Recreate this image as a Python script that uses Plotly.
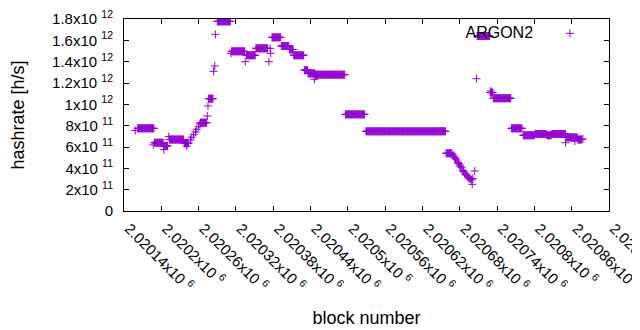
import plotly.graph_objects as go

# Runs of consecutive blocks with a constant hashrate (start block, end block, h/s)
run_start = [2020162, 2020189, 2020204, 2020213, 2020237, 2020263, 2020276, 2020290,
             2020313, 2020337, 2020352, 2020378, 2020393, 2020406, 2020413, 2020430,
             2020436, 2020448, 2020496, 2020529, 2020658, 2020708, 2020729, 2020734,
             2020763, 2020782, 2020801, 2020820, 2020828, 2020851, 2020870]
run_end = [2020188, 2020203, 2020210, 2020236, 2020244, 2020273, 2020283, 2020311,
           2020334, 2020351, 2020371, 2020392, 2020405, 2020412, 2020429, 2020435,
           2020447, 2020495, 2020527, 2020657, 2020667, 2020728, 2020733, 2020762,
           2020780, 2020800, 2020819, 2020827, 2020850, 2020869, 2020876]
run_value = [7.75e11, 6.4e11, 6.1e11, 6.7e11, 6.35e11, 8.28e11, 1.053e12, 1.778e12,
             1.497e12, 1.46e12, 1.525e12, 1.628e12, 1.547e12, 1.514e12, 1.46e12, 1.32e12,
             1.29e12, 1.278e12, 9.06e11, 7.47e11, 5.41e11, 1.64e12, 1.11e12, 1.057e12,
             7.75e11, 7.1e11, 7.22e11, 7.1e11, 7.22e11, 6.9e11, 6.7e11]

# Isolated blocks
single_block = [2020158, 2020187, 2020204, 2020212, 2020241,
                2020247, 2020249, 2020252, 2020255, 2020257, 2020260, 2020262,
                2020274, 2020275, 2020284, 2020286, 2020287,
                2020312, 2020335, 2020373, 2020375, 2020376, 2020446, 2020449,
                2020669, 2020670, 2020672, 2020673, 2020675, 2020677, 2020678, 2020680,
                2020681, 2020683, 2020685, 2020686, 2020688, 2020689, 2020691, 2020693,
                2020694, 2020696, 2020697, 2020699,
                2020700, 2020701, 2020704, 2020707, 2020730, 2020850, 2020865, 2020878]
single_value = [7.55e11, 6.2e11, 5.75e11, 6.97e11, 6.1e11,
                6.66e11, 6.91e11, 7.15e11, 7.41e11, 7.66e11, 7.9e11, 8.16e11,
                8.9e11, 9.85e11, 1.31e12, 1.36e12, 1.656e12,
                1.478e12, 1.40e12, 1.40e12, 1.525e12, 1.478e12, 1.235e12, 1.26e12,
                5.25e11, 5.15e11, 5.0e11, 4.9e11, 4.78e11, 4.56e11, 4.45e11, 4.31e11,
                4.2e11, 4.06e11, 3.81e11, 3.7e11, 3.56e11, 3.45e11, 3.34e11, 3.19e11,
                3.12e11, 3.06e11, 3.0e11, 2.93e11,
                2.5e11, 3.05e11, 3.75e11, 1.24e12, 1.125e12, 6.4e11, 6.56e11, 6.75e11]

x_tick_vals = [2020140 + 60 * i for i in range(14)]
x_tick_mant = ["2.02014", "2.0202", "2.02026", "2.02032", "2.02038", "2.02044", "2.0205",
               "2.02056", "2.02062", "2.02068", "2.02074", "2.0208", "2.02086", "2.02092"]
y_tick_vals = [0, 2e11, 4e11, 6e11, 8e11, 1e12, 1.2e12, 1.4e12, 1.6e12, 1.8e12]
y_tick_mant = ["0", "2", "4", "6", "8", "1", "1.2", "1.4", "1.6", "1.8"]
y_tick_exp = ["", "11", "11", "11", "11", "12", "12", "12", "12", "12"]

xs, ys = [], []
for s, e, v in zip(run_start, run_end, run_value):
    for b in range(s, e + 1):
        xs.append(b)
        ys.append(v)
xs += single_block
ys += single_value

NB = "\u00a0"
x_tick_text = [m + "x10" + NB + "<sup>6</sup>" for m in x_tick_mant]
y_tick_text = [m if not ex else m + "x10" + NB + "<sup>" + ex + "</sup>"
               for m, ex in zip(y_tick_mant, y_tick_exp)]

color = "#9400D3"
fig = go.Figure()
fig.add_trace(go.Scatter(
    x=xs, y=ys, mode="markers", name="",
    marker=dict(symbol="cross-thin", size=5.7, color=color,
                line=dict(color=color, width=1)),
    showlegend=True,
))

# page body has an 8px margin: the figure is sized so that it fits the 640x330 window
fig.update_layout(
    width=632, height=322,
    margin=dict(l=116, r=31, t=11, b=119, autoexpand=False),
    plot_bgcolor="white", paper_bgcolor="white",
    font=dict(family="Liberation Sans, Arial, sans-serif", size=15, color="black"),
    legend=dict(
        x=0.7, xanchor="left", y=1.01, yanchor="top",
        bgcolor="rgba(0,0,0,0)",
        title=dict(text="ARGON2" + NB + NB, side="left", font=dict(size=16)),
        itemwidth=30,
    ),
    xaxis=dict(
        range=[2020140, 2020920], tickmode="array", tickvals=x_tick_vals,
        ticktext=x_tick_text, tickangle=45, ticks="inside", ticklen=5,
        tickcolor="black", showline=True, linecolor="black", linewidth=1,
        mirror="ticks", showgrid=False, zeroline=False, automargin=False,
        ticklabeloverflow="allow", ticklabelshift=5, ticklabelstandoff=2,
        title=dict(text="block number", standoff=17),
        tickfont=dict(size=15),
    ),
    yaxis=dict(
        range=[0, 1.8e12], tickmode="array", tickvals=y_tick_vals,
        ticktext=y_tick_text, ticks="inside", ticklen=5,
        tickcolor="black", showline=True, linecolor="black", linewidth=1,
        mirror="ticks", showgrid=False, zeroline=False, automargin=False,
        ticklabeloverflow="allow", ticklabelstandoff=7,
        title=dict(text="hashrate [h/s]", standoff=33),
        tickfont=dict(size=15),
    ),
)

fig.write_html("out.html")
